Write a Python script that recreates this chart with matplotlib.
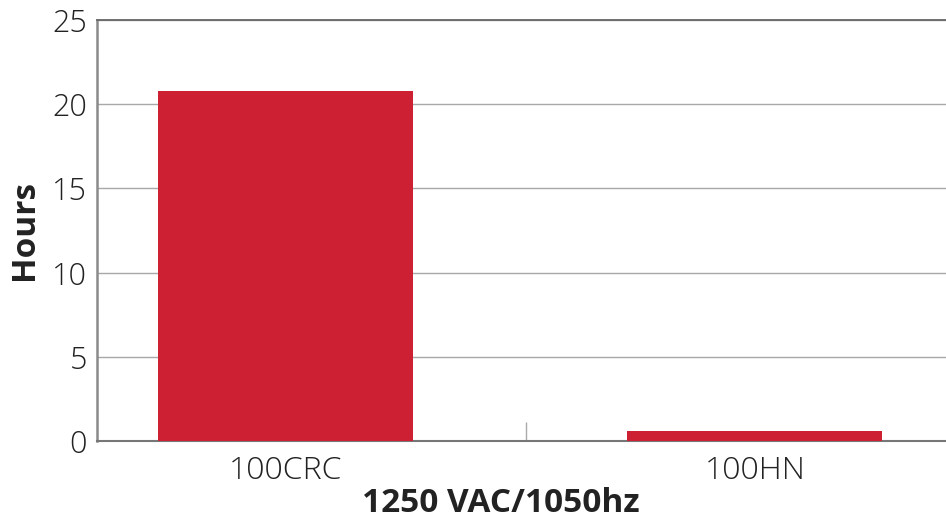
import matplotlib
matplotlib.use("Agg")
import matplotlib.pyplot as plt

# data
categories = ["100CRC", "100HN"]
hours = [20.8, 0.6]
yticks = [0, 5, 10, 15, 20, 25]

plt.rcParams['font.family'] = ['Open Sans', 'DejaVu Sans']

fig = plt.figure(figsize=(9.46, 5.25), dpi=100)
ax = fig.add_axes([0.1025, 0.16, 0.8975, 0.802])

x = range(len(categories))
ax.bar(x, hours, width=0.543, color="#cd2032", zorder=3)

ax.set_xlim(-0.4015, 1.407)
ax.set_ylim(0, 25)
ax.set_yticks(yticks)
ax.set_yticklabels([str(t) for t in yticks], fontsize=22, fontweight="light", color="#222222")
ax.set_xticks(list(x))
ax.set_xticklabels(categories, fontsize=23, fontweight="light", color="#222222")
ax.tick_params(axis="x", length=0, pad=10)
ax.tick_params(axis="y", length=0, pad=7)
# small divider tick between categories
ax.set_xticks([0.512], minor=True)
ax.tick_params(axis="x", which="minor", direction="in", length=14, color="#aaaaaa", width=1)

ax.grid(axis="y", color="#a8a8a8", linewidth=1, zorder=0)
ax.spines["right"].set_visible(False)
ax.spines["top"].set_color("#666666")
ax.spines["top"].set_linewidth(1.3)
ax.spines["left"].set_color("#8a8a8a")
ax.spines["left"].set_linewidth(1.8)
ax.spines["bottom"].set_color("#777777")
ax.spines["bottom"].set_linewidth(1.5)

ax.set_ylabel("Hours", fontsize=24, fontweight="bold", color="#222222", labelpad=8)
ax.set_xlabel("1250 VAC/1050hz", fontsize=24, fontweight="bold", color="#222222")
ax.xaxis.set_label_coords(0.476, -0.11)

fig.savefig("out.png", dpi=100)
